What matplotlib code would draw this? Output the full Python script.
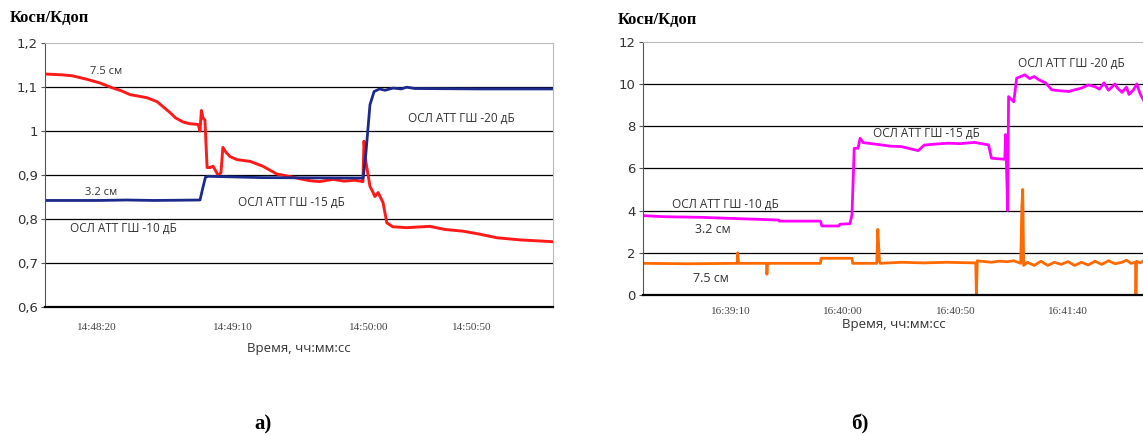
import matplotlib.pyplot as plt

# ---- panel a) : time in seconds from the left edge of the plot ----
a_red_t = [0, 6.6, 10, 15.4, 20, 25, 28, 31.3, 34, 37.5, 41.2, 43.5, 46, 48, 50.7,
           53, 56.3, 57, 57.5, 58.1, 58.8, 59.6, 60.7, 61.8, 63.6, 64.7, 65.4, 66.5,
           68, 70.6, 75.4, 80.1, 85.3, 88, 91.2, 94, 97.4, 101, 105.9, 110, 114,
           116.9, 117.3, 118, 119.5, 120.5, 121.3, 122.5, 124.3, 125.7, 127.9, 133,
           141.5, 147, 153.7, 160, 166.2, 175, 181, 186.8]
a_red_v = [1.130, 1.128, 1.126, 1.118, 1.110, 1.098, 1.092, 1.083, 1.080, 1.076,
           1.067, 1.055, 1.042, 1.030, 1.021, 1.017, 1.015, 1.000, 1.047, 1.030,
           1.025, 0.917, 0.917, 0.920, 0.900, 0.905, 0.963, 0.952, 0.942, 0.935,
           0.931, 0.920, 0.902, 0.899, 0.895, 0.891, 0.887, 0.885, 0.890, 0.886,
           0.888, 0.885, 0.977, 0.930, 0.874, 0.862, 0.851, 0.860, 0.837, 0.791,
           0.782, 0.780, 0.783, 0.776, 0.772, 0.765, 0.757, 0.752, 0.750, 0.748]

a_blue_t = [0, 20, 30, 40, 57, 58, 59, 60, 80, 117, 118, 119.5, 121, 123, 125, 128,
            131, 133, 136, 160, 186.8]
a_blue_v = [0.842, 0.842, 0.843, 0.842, 0.843, 0.870, 0.895, 0.897, 0.894, 0.893,
            0.950, 1.060, 1.090, 1.096, 1.093, 1.098, 1.096, 1.100, 1.097, 1.096,
            1.096]

a_tick_pos = [19, 69, 119, 157]
a_tick_lbl = ['14:48:20', '14:49:10', '14:50:00', '14:50:50']
a_yticks = [0.6, 0.7, 0.8, 0.9, 1.0, 1.1, 1.2]
a_ylbl = ['0,6', '0,7', '0,8', '0,9', '1', '1,1', '1,2']

# ---- panel б) ----
b_mag_t = [0, 9.1, 25.6, 39, 60.4, 60.8, 79, 79.6, 87.2, 87.6, 92.1, 93, 94, 95.7,
           96.6, 98, 106, 110, 114.9, 118, 122.5, 125.1, 130, 135.8, 141, 147.4,
           153.7, 155, 160.9, 161.3, 162.2, 162.6, 164.9, 166.2, 168, 169.8, 172,
           174, 176, 179, 181.8, 185, 189.4, 192, 195, 198, 201, 203, 205, 207,
           209.9, 211, 213, 215, 216.1, 218, 219.6, 221, 222.7]
b_mag_v = [3.76, 3.71, 3.68, 3.63, 3.55, 3.50, 3.50, 3.27, 3.27, 3.35, 3.38, 3.80,
           6.95, 6.95, 7.43, 7.22, 7.11, 7.05, 7.03, 6.95, 6.84, 7.10, 7.15, 7.19,
           7.17, 7.23, 7.11, 6.48, 6.43, 7.60, 4.00, 9.40, 9.15, 10.27, 10.35, 10.43,
           10.25, 10.35, 10.20, 10.05, 9.72, 9.68, 9.64, 9.72, 9.80, 9.95, 9.87, 9.75,
           10.05, 9.70, 10.00, 9.80, 9.60, 9.85, 9.50, 9.70, 10.00, 9.55, 9.20]

b_orn_t = [0, 20, 42, 42.2, 42.6, 55, 55.2, 55.5, 70, 79, 79.3, 93, 93.3, 104,
           104.5, 105.2, 105.6, 115, 125, 135, 148, 148.3, 148.7, 152, 155, 158,
           162, 165, 168, 168.5, 168.9, 169.3, 171, 174, 177, 180, 183, 186, 189,
           192, 195, 198, 201, 204, 207, 210, 213, 215, 217, 219, 219.2, 219.5,
           221, 222.7]
b_orn_v = [1.50, 1.48, 1.50, 2.00, 1.50, 1.50, 0.98, 1.50, 1.50, 1.50, 1.74, 1.74,
           1.50, 1.50, 3.11, 1.60, 1.50, 1.55, 1.52, 1.55, 1.52, 0.00, 1.62, 1.58,
           1.55, 1.60, 1.58, 1.62, 1.50, 4.20, 5.00, 1.40, 1.55, 1.40, 1.60, 1.40,
           1.55, 1.45, 1.58, 1.40, 1.55, 1.42, 1.60, 1.45, 1.62, 1.48, 1.55, 1.65,
           1.50, 1.55, 0.00, 1.60, 1.52, 1.62]

b_tick_pos = [39, 89, 139, 189]
b_tick_lbl = ['16:39:10', '16:40:00', '16:40:50', '16:41:40']
b_yticks = [0, 2, 4, 6, 8, 10, 12]

sans = 'Open Sans'
serif = 'Liberation Serif'

fig = plt.figure(figsize=(11.43, 4.36), dpi=100)


def style_axes(ax):
    ax.set_facecolor('white')
    ax.grid(axis='y', color='black', lw=0.9)
    ax.set_axisbelow(True)
    ax.tick_params(axis='x', length=0, pad=12, labelsize=8, labelcolor='#444444')
    ax.tick_params(axis='y', length=3, width=0.8, color='#555555', labelsize=9.5,
                   labelcolor='#333333', pad=2)
    for lbl in ax.get_xticklabels():
        lbl.set_fontfamily(serif)
    ax.spines['top'].set_color('#bbbbbb')
    ax.spines['right'].set_color('#bbbbbb')
    ax.spines['left'].set_color('#555555')
    ax.spines['bottom'].set_color('black')
    ax.spines['bottom'].set_linewidth(1.6)


# ---------------- a) ----------------
axa = fig.add_axes([0.0394, 0.2966, 0.4444, 0.6041])
axa.plot(a_red_t, a_red_v, color='#ff1a1a', lw=2.1)
axa.plot(a_blue_t, a_blue_v, color='#1c2a8c', lw=2.0)
axa.set_xlim(0, 186.8)
axa.set_ylim(0.6, 1.2)
axa.set_yticks(a_yticks)
axa.set_yticklabels(a_ylbl)
axa.set_xticks(a_tick_pos)
axa.set_xticklabels(a_tick_lbl)
style_axes(axa)
gl = axa.get_ygridlines()
gl[0].set_visible(False)
gl[-1].set_visible(False)
axa.set_xlabel('Время, чч:мм:сс', family=sans, fontsize=9.5, color='#333333',
               labelpad=7)

txt = dict(family=sans, fontsize=8.5, color='#333333', va='center')
axa.text(16.5, 1.135, '7.5 см', family=sans, fontsize=8, color='#333333', va='center')
axa.text(14.7, 0.860, '3.2 см', family=sans, fontsize=8, color='#333333', va='center')
axa.text(9.2, 0.778, 'ОСЛ АТТ ГШ -10 дБ', **txt)
axa.text(71, 0.837, 'ОСЛ АТТ ГШ -15 дБ', **txt)
axa.text(133.5, 1.028, 'ОСЛ АТТ ГШ -20 дБ', **txt)

# ---------------- б) ----------------
axb = fig.add_axes([0.5623, 0.3234, 0.4390, 0.5810])
axb.plot(b_mag_t, b_mag_v, color='#ff00ff', lw=2.0)
axb.plot(b_orn_t, b_orn_v, color='#ff6a00', lw=2.0)
axb.set_xlim(0, 223)
axb.set_ylim(0, 12)
axb.set_yticks(b_yticks)
axb.set_xticks(b_tick_pos)
axb.set_xticklabels(b_tick_lbl)
style_axes(axb)
axb.tick_params(axis='x', pad=9)
axb.spines['bottom'].set_linestyle((0, (3, 1)))
axb.spines['right'].set_visible(False)
gl = axb.get_ygridlines()
gl[0].set_visible(False)
gl[-1].set_visible(False)
axb.set_xlabel('Время, чч:мм:сс', family=sans, fontsize=9.5, color='#333333',
               labelpad=1)

axb.text(13, 4.27, 'ОСЛ АТТ ГШ -10 дБ', **txt)
axb.text(23.3, 3.08, '3.2 см', family=sans, fontsize=9, color='#333333', va='center')
axb.text(22.5, 0.76, '7.5 см', family=sans, fontsize=9, color='#333333', va='center')
axb.text(102.3, 7.68, 'ОСЛ АТТ ГШ -15 дБ', **txt)
axb.text(167, 10.95, 'ОСЛ АТТ ГШ -20 дБ', **txt)

# ---- titles and panel letters ----
fig.text(10 / 1143, 1 - 18 / 436, 'Косн/Кдоп', family=serif, weight='bold',
         fontsize=12, va='center', ha='left')
fig.text(618 / 1143, 1 - 20 / 436, 'Косн/Кдоп', family=serif, weight='bold',
         fontsize=12, va='center', ha='left')
fig.text(263 / 1143, 1 - 424 / 436, 'а)', family=serif, weight='bold',
         fontsize=15, va='center', ha='center')
fig.text(860 / 1143, 1 - 424 / 436, 'б)', family=serif, weight='bold',
         fontsize=15, va='center', ha='center')

fig.savefig('out.png', dpi=100)
